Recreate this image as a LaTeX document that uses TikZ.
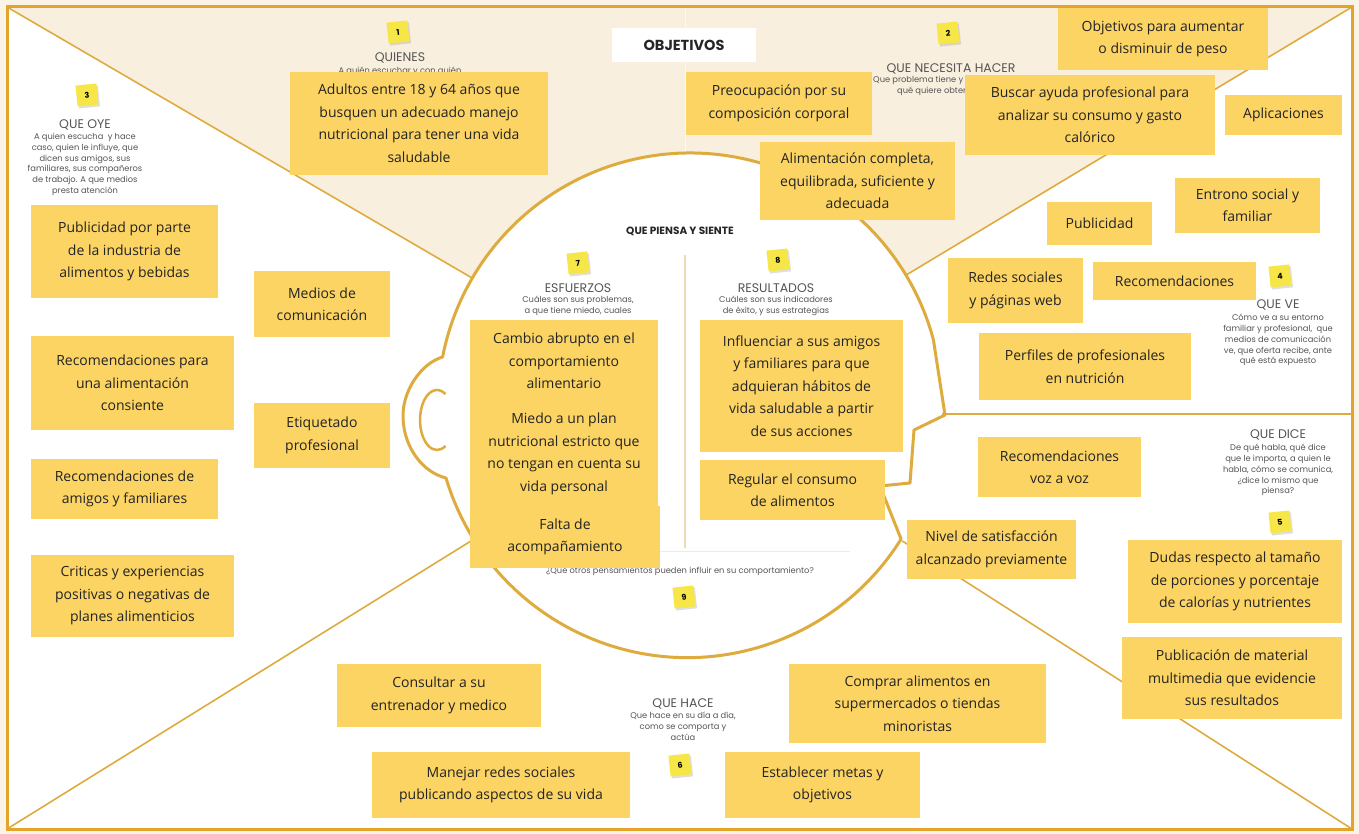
\documentclass[tikz,border=0pt]{standalone}
\usepackage{fontspec}
\setmainfont{Open Sans}
\newfontfamily\headfont{Poppins}
\usetikzlibrary{shadows}

\definecolor{framec}{RGB}{228,163,42}
\definecolor{linec}{RGB}{222,172,62}
\definecolor{beige}{RGB}{249,239,222}
\definecolor{creamc}{RGB}{251,244,230}
\definecolor{notec}{RGB}{252,212,100}
\definecolor{stickc}{RGB}{246,230,72}
\definecolor{labelc}{RGB}{85,85,85}
\definecolor{textc}{RGB}{35,35,35}
\definecolor{innerc}{RGB}{238,218,182}

\tikzset{
  note/.style={fill=notec, text=textc, align=center, inner sep=0pt,
    font=\fontsize{14}{22.5}\selectfont},
  sticky/.style={fill=stickc, minimum size=21pt, inner sep=0pt, rotate=6,
    font=\headfont\bfseries\fontsize{8}{8}\selectfont,
    drop shadow={opacity=0.25, shadow xshift=1.5pt, shadow yshift=-2pt}},
  title/.style={text=labelc, inner sep=0pt, font=\headfont\fontsize{12.5}{12.5}\selectfont},
  sub/.style={text=labelc, inner sep=0pt, align=center, anchor=north,
    font=\headfont\fontsize{8.3}{10.8}\selectfont},
  diag/.style={linec, line width=1.6pt},
  head/.style={linec, line width=3pt, line join=round}
}

\begin{document}
\begin{tikzpicture}[x=1pt, y=1pt]
  \useasboundingbox (0,0) rectangle (1359,-834);
  \fill[creamc] (0,0) rectangle (1359,-834);
  \fill[white] (7,-7) rectangle (1352,-829);

  % top zone and divisions
  \fill[beige] (7,-7) -- (690,-405) -- (1352,-7) -- cycle;
  \draw[white!60!beige, line width=1pt] (685,-8) -- (685,-160);
  \draw[diag] (7,-7) -- (690,-405);
  \draw[diag] (1352,-7) -- (690,-405);
  \draw[diag] (7,-829) -- (690,-405);
  \draw[diag] (1352,-829) -- (690,-405);
  \draw[diag] (935,-414) -- (1352,-414);

  % head
  \fill[white] (690,-405) circle (252);
  \draw[head] (933.4,-339.8) arc[start angle=15, end angle=169, radius=252]
    .. controls (420,-364) and (402,-392) .. (403,-418)
    .. controls (404,-447) and (422,-472) .. (446,-478)
    arc[start angle=196.7, end angle=328, radius=252]
    -- (880,-486) -- (910,-483) -- (914,-430) -- (945,-415) -- cycle;
  \draw[linec, line width=2.5pt] (445.5,-394) arc[start angle=60, end angle=300, x radius=17, y radius=30];
  \draw[innerc, line width=1.5pt] (685,-255) -- (685,-548);
  \draw[black!8, line width=1pt] (520,-551) -- (850,-551);

  % headings
  \node[sticky] (s1) at (398,-32) {1};
  \node[title] (quienes) at (400,-58) {QUIENES};
  \node[sub] (quienesq) at (400,-67) {A quién escuchar y con quién};
  \node[fill=white, minimum width=144pt, minimum height=34pt, inner sep=0pt,
    font=\headfont\bfseries\fontsize{14.5}{14.5}\selectfont, text=black!85] (objetivos) at (684,-45) {OBJETIVOS};
  \node[sticky] (s2) at (948,-33) {2};
  \node[title] (necesita) at (951,-69) {QUE NECESITA HACER};
  \node[sub, anchor=north west] (necesitaq1) at (873,-76) {Que problema tiene y};
  \node[sub, anchor=north west] (necesitaq2) at (897,-87) {qué quiere obtener};
  \node[sticky] (s3) at (87,-95) {3};
  \node[title] (oye) at (85,-125) {QUE OYE};
  \node[sub] (oyeq) at (85,-133) {A quien escucha \ y hace\\caso, quien le influye, que\\dicen sus amigos, sus\\familiares, sus compañeros\\de trabajo. A que medios\\presta atención};
  \node[sticky] (s4) at (1280,-276) {4};
  \node[title] (ve) at (1278,-305) {QUE VE};
  \node[sub] (veq) at (1278,-314) {Cómo ve a su entorno\\familiar y profesional, \ que\\medios de comunicación\\ve, que oferta recibe, ante\\qué está expuesto};
  \node[title] (dice) at (1278,-435) {QUE DICE};
  \node[sub] (diceq) at (1278,-444) {De qué habla, qué dice\\que le importa, a quien le\\habla, cómo se comunica,\\¿dice lo mismo que\\piensa?};
  \node[sticky] (s5) at (1280,-522) {5};
  \node[text=black!85, inner sep=0pt, font=\headfont\bfseries\fontsize{10.5}{10.5}\selectfont] (piensa) at (680,-231) {QUE PIENSA Y SIENTE};
  \node[sticky] (s7) at (578,-263) {7};
  \node[title] (esfuerzos) at (578,-288) {ESFUERZOS};
  \node[sub] (esfuerzosq) at (578,-296) {Cuáles son sus problemas,\\a que tiene miedo, cuales};
  \node[sticky] (s8) at (778,-260) {8};
  \node[title] (resultados) at (776,-288) {RESULTADOS};
  \node[sub] (resultadosq) at (776,-296) {Cuáles son sus indicadores\\de éxito, y sus estrategias};
  \node[sub] (otros) at (680,-567) {¿Que otros pensamientos pueden influir en su comportamiento?};
  \node[sticky] (s9) at (684,-597) {9};
  \node[title] (hace) at (683,-704) {QUE HACE};
  \node[sub] (haceq) at (683,-712) {Que hace en su día a día,\\como se comporta y\\actúa};
  \node[sticky] (s6) at (680,-765) {6};

  % notes
  \node[note, minimum width=258pt, minimum height=103pt] (adultos) at (419,-123.5) {Adultos entre 18 y 64 años que\\busquen un adecuado manejo\\nutricional para tener una vida\\saludable};
  \node[note, minimum width=186pt, minimum height=63pt] (preocupacion) at (779,-103.5) {Preocupación por su\\composición corporal};
  \node[note, minimum width=210pt, minimum height=62pt] (peso) at (1163,-39) {Objetivos para aumentar\\o disminuir de peso};
  \node[note, minimum width=250pt, minimum height=80pt] (ayuda) at (1090,-115) {Buscar ayuda profesional para\\analizar su consumo y gasto\\calórico};
  \node[note, minimum width=117pt, minimum height=40pt] (aplicaciones) at (1283.5,-115) {Aplicaciones};
  \node[note, minimum width=195pt, minimum height=78pt] (alimentacion) at (857.5,-181) {Alimentación completa,\\equilibrada, suficiente y\\adecuada};
  \node[note, minimum width=105pt, minimum height=43pt] (publicidad) at (1099.5,-223.5) {Publicidad};
  \node[note, minimum width=145pt, minimum height=55pt] (entorno) at (1247.5,-205.5) {Entrono social y\\familiar};
  \node[note, minimum width=135pt, minimum height=65pt] (redes) at (1015.5,-290.5) {Redes sociales\\y páginas web};
  \node[note, minimum width=163pt, minimum height=38pt] (recomve) at (1174.5,-281) {Recomendaciones};
  \node[note, minimum width=212pt, minimum height=67pt] (perfiles) at (1085,-366.5) {Perfiles de profesionales\\en nutrición};
  \node[note, minimum width=163pt, minimum height=60pt] (vozavoz) at (1059.5,-467) {Recomendaciones\\voz a voz};
  \node[note, minimum width=169pt, minimum height=59pt] (nivel) at (991.5,-549.5) {Nivel de satisfacción\\alcanzado previamente};
  \node[note, minimum width=214pt, minimum height=83pt] (dudas) at (1235,-581.5) {Dudas respecto al tamaño\\de porciones y porcentaje\\de calorías y nutrientes};
  \node[note, minimum width=220pt, minimum height=82pt] (publicacion) at (1232,-678) {Publicación de material\\multimedia que evidencie\\sus resultados};
  \node[note, minimum width=257pt, minimum height=79pt] (comprar) at (917.5,-703.5) {Comprar alimentos en\\supermercados o tiendas\\minoristas};
  \node[note, minimum width=195pt, minimum height=66pt] (metas) at (822.5,-785) {Establecer metas y\\objetivos};
  \node[note, minimum width=258pt, minimum height=66pt] (manejar) at (501,-785) {Manejar redes sociales\\publicando aspectos de su vida};
  \node[note, minimum width=204pt, minimum height=63pt] (consultar) at (439,-695.5) {Consultar a su\\entrenador y medico};
  \node[note, minimum width=203pt, minimum height=82pt] (criticas) at (132.5,-596) {Criticas y experiencias\\positivas o negativas de\\planes alimenticios};
  \node[note, minimum width=187pt, minimum height=60pt] (recamigos) at (124.5,-489) {Recomendaciones de\\amigos y familiares};
  \node[note, minimum width=203pt, minimum height=94pt] (recalim) at (132.5,-383) {Recomendaciones para\\una alimentación\\consiente};
  \node[note, minimum width=187pt, minimum height=93pt] (industria) at (124.5,-251.5) {Publicidad por parte\\de la industria de\\alimentos y bebidas};
  \node[note, minimum width=136pt, minimum height=66pt] (medios) at (322,-304) {Medios de\\comunicación};
  \node[note, minimum width=136pt, minimum height=65pt] (etiquetado) at (322,-435.5) {Etiquetado\\profesional};
  \node[note, minimum width=188pt, minimum height=82pt] (cambio) at (564,-361) {Cambio abrupto en el\\comportamiento\\alimentario};
  \node[note, minimum width=188pt, minimum height=104pt] (miedo) at (564,-454) {Miedo a un plan\\nutricional estricto que\\no tengan en cuenta su\\vida personal};
  \node[note, minimum width=190pt, minimum height=62pt] (falta) at (565,-537) {Falta de\\acompañamiento};
  \node[note, minimum width=203pt, minimum height=132pt] (influenciar) at (801.5,-386) {Influenciar a sus amigos\\y familiares para que\\adquieran hábitos de\\vida saludable a partir\\de sus acciones};
  \node[note, minimum width=185pt, minimum height=60pt] (regular) at (792.5,-490) {Regular el consumo\\de alimentos};

  \draw[framec, line width=3pt] (7,-7) rectangle (1352,-829);
\end{tikzpicture}
\end{document}
